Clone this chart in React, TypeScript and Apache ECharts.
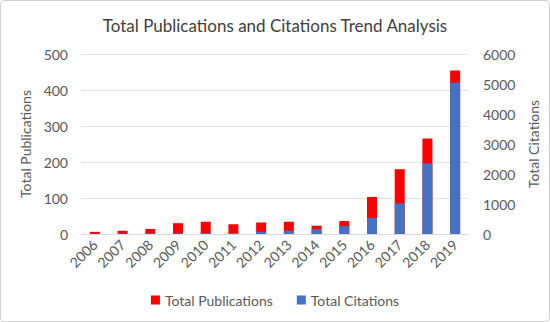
import React, { useEffect, useRef } from "react";
import * as echarts from "echarts";

const years = ["2006", "2007", "2008", "2009", "2010", "2011", "2012", "2013", "2014", "2015", "2016", "2017", "2018", "2019"];
const publications = [6, 9, 14, 30, 34, 27, 32, 34, 23, 36, 103, 180, 265, 454];
const citations = [10, 15, 20, 25, 30, 35, 75, 110, 160, 265, 535, 1020, 2350, 5040];

const FONT = "Lato";
const GRAY = "#595959";

export default function App() {
  const ref = useRef<HTMLDivElement>(null);
  useEffect(() => {
    document.body.style.margin = "0";
    const chart = echarts.init(ref.current!, null, { renderer: "svg" });
    chart.setOption({
      animation: false,
      textStyle: { fontFamily: FONT },
      title: {
        text: "Total Publications and Citations Trend Analysis",
        left: "center",
        top: 11,
        textStyle: { fontFamily: FONT, fontSize: 17, fontWeight: "normal", color: "#404040" },
      },
      legend: {
        bottom: 9,
        left: "center",
        itemWidth: 9,
        itemHeight: 9,
        itemGap: 24,
        icon: "rect",
        textStyle: { fontFamily: FONT, fontSize: 14, color: GRAY },
        data: ["Total Publications", "Total Citations"],
      },
      grid: { left: 80, right: 80, top: 53, bottom: 87 },
      xAxis: {
        type: "category",
        data: years,
        axisTick: { show: false },
        axisLine: { lineStyle: { color: "#d9d9d9" } },
        axisLabel: { rotate: 45, fontSize: 14, color: GRAY, fontFamily: FONT, margin: 8 },
      },
      yAxis: [
        {
          type: "value",
          min: 0,
          max: 500,
          interval: 100,
          name: "Total Publications",
          nameLocation: "middle",
          nameGap: 46,
          nameTextStyle: { fontSize: 14, color: GRAY, fontFamily: FONT },
          axisLabel: { fontSize: 14, color: GRAY, fontFamily: FONT, margin: 13 },
          splitLine: { lineStyle: { color: "#e3e3e3" } },
          axisLine: { show: false },
        },
        {
          type: "value",
          min: 0,
          max: 6000,
          interval: 1000,
          name: "Total Citations",
          nameLocation: "middle",
          nameGap: 46,
          nameRotate: 90,
          nameTextStyle: { fontSize: 14, color: GRAY, fontFamily: FONT },
          axisLabel: { fontSize: 14, color: GRAY, fontFamily: FONT, margin: 14, formatter: (v: number) => String(v) },
          splitLine: { show: false },
          axisLine: { show: false },
        },
      ],
      series: [
        {
          name: "Total Publications",
          type: "bar",
          yAxisIndex: 0,
          data: publications,
          barWidth: 10,
          barGap: "-100%",
          itemStyle: { color: "#FF0000" },
        },
        {
          name: "Total Citations",
          type: "bar",
          yAxisIndex: 1,
          data: citations,
          barWidth: 10,
          itemStyle: { color: "#4472C4" },
        },
      ],
    });
    return () => chart.dispose();
  }, []);
  return (
    <div
      style={{
        width: 548,
        height: 320,
        border: "1px solid #d0d0d0",
        borderRadius: 4,
        background: "#fff",
      }}
    >
      <div ref={ref} style={{ width: 548, height: 320 }} />
    </div>
  );
}
